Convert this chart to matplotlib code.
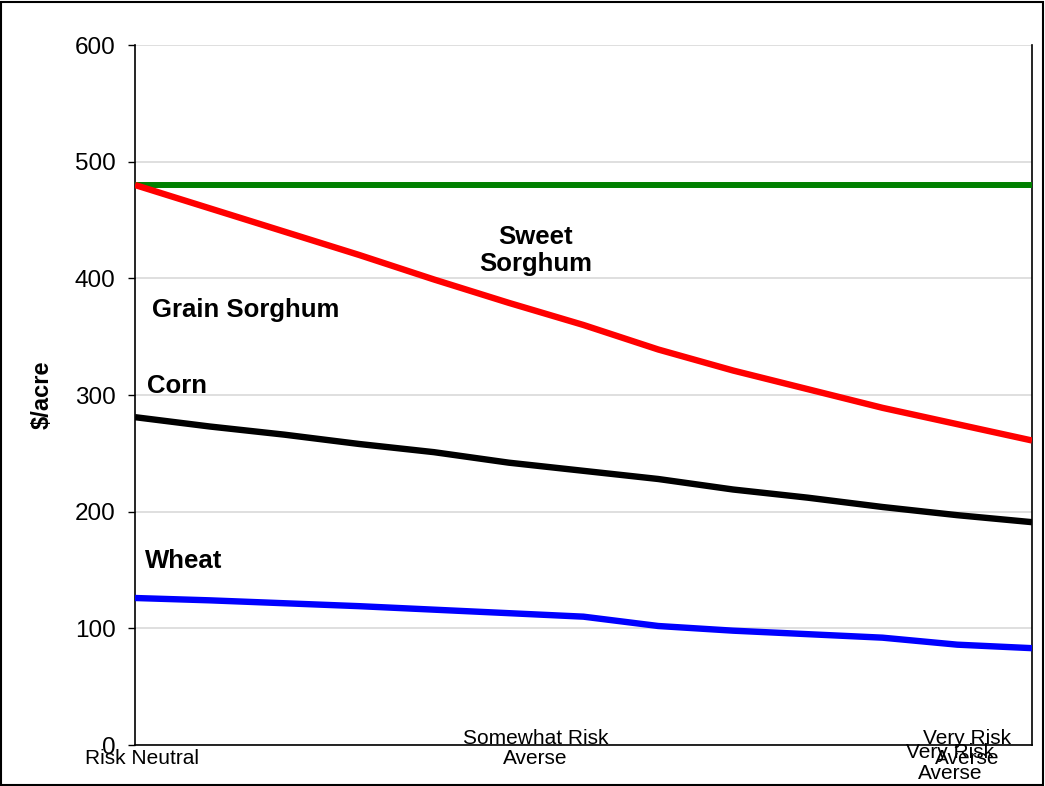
import matplotlib
matplotlib.use('Agg')
import matplotlib.pyplot as plt
from matplotlib.patches import Rectangle

plt.rcParams['font.family'] = ['Liberation Sans', 'DejaVu Sans']

# values, 13 evenly spaced steps from risk neutral to very risk averse
steps = list(range(13))
sweet_sorghum = [480, 480, 480, 480, 480, 480, 480, 480, 480, 480, 480, 480, 480]
grain_sorghum = [480, 460, 440, 420, 399, 379, 360, 339, 321, 305, 289, 275, 261]
corn = [281, 273, 266, 258, 251, 242, 235, 228, 219, 212, 204, 197, 191]
wheat = [126, 124, 121.5, 119, 116, 113, 110, 102, 98, 95, 92, 86, 83]

y_ticks = [0, 100, 200, 300, 400, 500, 600]

fig = plt.figure(figsize=(10.45, 7.86), dpi=100)
ax = fig.add_axes([135 / 1045, 41 / 786, 897 / 1045, 700 / 786])

# outer chart border
fig.patches.append(Rectangle((0.001, 0.001), 0.997, 0.997, transform=fig.transFigure,
                             fill=False, edgecolor='black', linewidth=1.5))

ax.plot(steps, sweet_sorghum, color='#008000', lw=4.3, solid_capstyle='butt', zorder=3)
ax.plot(steps, grain_sorghum, color='#ff0000', lw=4.6, solid_capstyle='butt', zorder=4)
ax.plot(steps, corn, color='black', lw=4.6, solid_capstyle='butt', zorder=3)
ax.plot(steps, wheat, color='#0000ff', lw=4.6, solid_capstyle='butt', zorder=3)

ax.set_xlim(0, 12)
ax.set_ylim(0, 600)
ax.set_yticks(y_ticks)
ax.tick_params(axis='y', labelsize=17.5, length=5, pad=9, width=1)
ax.set_xticks([])
ax.grid(axis='y', color='#d9d9d9', lw=1.2, zorder=0)
ax.set_axisbelow(True)

ax.spines['top'].set_visible(False)
for s in ['left', 'bottom', 'right']:
    ax.spines[s].set_color('black')
    ax.spines[s].set_linewidth(1.2)

ax.set_ylabel('$/acre', fontsize=17, fontweight='bold')
ax.yaxis.set_label_coords(-0.091, 0.5)

# category labels under the axis
tr = ax.get_xaxis_transform()
ax.annotate('Risk Neutral', xy=(0.09, 0), xycoords=tr, xytext=(0, -14),
            textcoords='offset pixels', ha='center', va='center', fontsize=15)
ax.annotate('Somewhat Risk\nAverse', xy=(5.36, 0), xycoords=tr, xytext=(0, -3.5),
            textcoords='offset pixels', ha='center', va='center', fontsize=15,
            linespacing=1.1)
ax.annotate('Very Risk\nAverse', xy=(11.13, 0), xycoords=tr, xytext=(0, -3.5),
            textcoords='offset pixels', ha='center', va='center', fontsize=15,
            linespacing=1.1)
ax.annotate('Very Risk\nAverse', xy=(10.9, 0), xycoords=tr, xytext=(0, -18),
            textcoords='offset pixels', ha='center', va='center', fontsize=15,
            linespacing=1.1)

# series labels
ax.text(0.227, 373, 'Grain Sorghum', fontsize=18.5, fontweight='bold', va='center', ha='left')
ax.text(0.16, 308, 'Corn', fontsize=18.5, fontweight='bold', va='center', ha='left')
ax.text(0.134, 158, 'Wheat', fontsize=18.5, fontweight='bold', va='center', ha='left')
ax.text(5.36, 424, 'Sweet\nSorghum', fontsize=18.5, fontweight='bold', va='center', ha='center',
        linespacing=1.15)

fig.savefig('out.png', dpi=100)
